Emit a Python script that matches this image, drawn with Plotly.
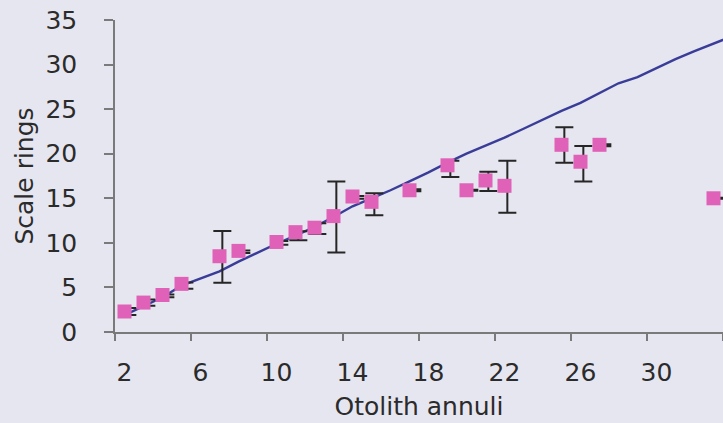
import plotly.graph_objects as go

# Observed scale ring counts by otolith age
ages = [2, 3, 4, 5, 7, 8, 10, 11, 12, 13, 14, 15, 17, 19, 20, 21, 22, 25, 26, 27, 33]
scale_rings = [2.3, 3.3, 4.15, 5.4, 8.5, 9.1, 10.1, 11.2, 11.7, 13.0, 15.2, 14.6, 15.9, 18.7, 15.9, 17.0, 16.4, 21.0, 19.1, 21.0, 15.0]

# Error bar series (centre and half-range)
err_center = [2.3, 3.3, 4.05, 5.2, 8.43, 9.0, 10.0, 10.8, 11.6, 12.9, 15.1, 14.33, 15.9, 18.3, 15.9, 16.9, 16.3, 20.98, 18.87, 20.95, 15.0]
err_half = [0.4, 0.35, 0.15, 0.35, 2.9, 0.15, 0.2, 0.5, 0.6, 3.98, 0.15, 1.23, 0.1, 0.9, 0.05, 1.07, 2.92, 2.0, 2.0, 0.1, 0.05]

# Fitted relationship line
line_x = list(range(2, 35))
line_y = [1.9, 2.9, 3.9, 5.2, 6.0, 6.8, 7.9, 8.9, 9.9, 10.8, 11.8, 12.9, 14.1, 15.0, 15.9, 16.9,
          17.9, 19.0, 20.0, 20.9, 21.8, 22.8, 23.8, 24.8, 25.7, 26.8, 27.9, 28.6, 29.6, 30.6, 31.5, 32.4, 33.2]

x_ticklabels = [2, 6, 10, 14, 18, 22, 26, 30]
y_ticks = [0, 5, 10, 15, 20, 25, 30, 35]

BG = "#e6e6f0"
FONT = "DejaVu Sans"
TXT = "#2b2b2b"
AX = "#7a7a7a"

fig = go.Figure()

fig.add_trace(go.Scatter(
    x=line_x, y=line_y, mode="lines",
    line=dict(color="#3a3d98", width=2.4),
    showlegend=False, hoverinfo="skip"))

fig.add_trace(go.Scatter(
    x=[a + 0.15 for a in ages], y=err_center, mode="markers",
    marker=dict(size=1, color="rgba(0,0,0,0)"),
    error_y=dict(type="data", array=err_half, visible=True,
                 color="#262626", thickness=2, width=9),
    showlegend=False, hoverinfo="skip"))

fig.add_trace(go.Scatter(
    x=ages, y=scale_rings, mode="markers",
    marker=dict(symbol="square", size=14, color="#e062b8", line=dict(width=0)),
    showlegend=False))

# tick-mark-only axis at category boundaries
fig.add_trace(go.Scatter(x=[1.5], y=[None], xaxis="x2", showlegend=False, hoverinfo="skip"))

fig.update_layout(
    width=723, height=423,
    margin=dict(l=115, r=0, t=20, b=91),
    paper_bgcolor=BG, plot_bgcolor=BG,
    font=dict(family=FONT, size=25, color=TXT),
    xaxis=dict(
        range=[1.5, 33.5], tickmode="array", tickvals=x_ticklabels,
        ticks="", showgrid=False, zeroline=False,
        showline=True, linecolor=AX, linewidth=1.5,
        ticklabelstandoff=17,
        title=dict(text="Otolith annuli", font=dict(size=25, color=TXT), standoff=12),
    ),
    xaxis2=dict(
        overlaying="x", anchor="y", side="bottom",
        range=[1.5, 33.5], tickmode="array",
        tickvals=[v - 0.5 for v in x_ticklabels] + [33.5],
        ticks="outside", ticklen=8, tickwidth=1.5, tickcolor=AX,
        showticklabels=False, showgrid=False, zeroline=False, showline=False,
    ),
    yaxis=dict(
        range=[0, 35], tickmode="array", tickvals=y_ticks,
        ticks="outside", ticklen=9, tickwidth=1.5, tickcolor=AX,
        showgrid=False, zeroline=False,
        showline=True, linecolor=AX, linewidth=1.5,
        ticklabelstandoff=22,
        title=dict(text="Scale rings", font=dict(size=25, color=TXT), standoff=5),
    ),
)

fig.write_html("out.html")
